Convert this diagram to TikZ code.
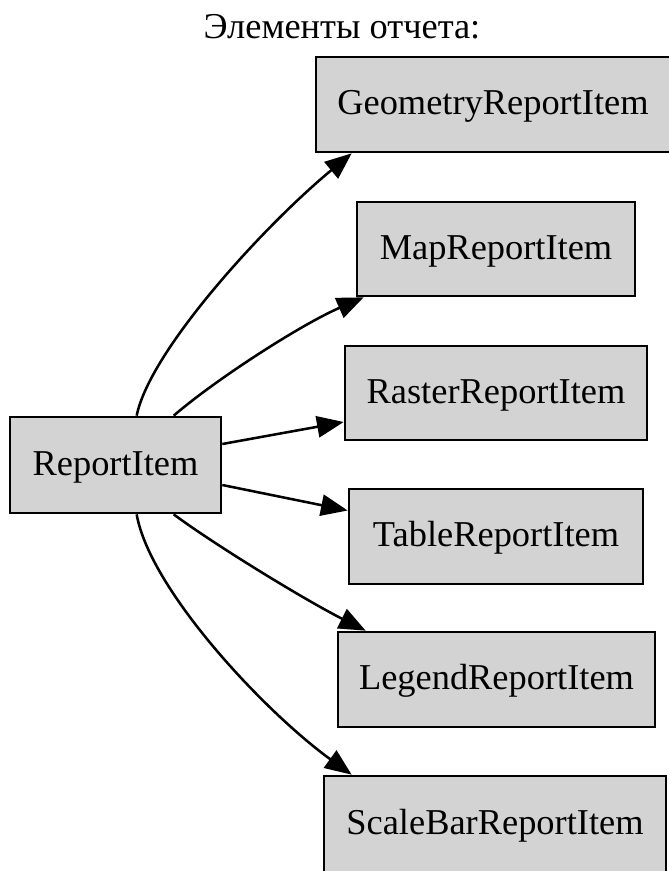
\documentclass[tikz,border=0pt]{standalone}
\usepackage{fontspec}
\setmainfont{Liberation Serif}
\usetikzlibrary{arrows.meta,calc}
\definecolor{boxfill}{RGB}{211,211,211}
\tikzset{
  item/.style={draw=black, fill=boxfill, line width=2pt, inner sep=0pt,
    font=\fontsize{27.3}{32}\selectfont, text height=20pt, text depth=5pt,
    align=center},
  edge/.style={line width=1.9pt, -{Triangle[length=20pt,width=16pt]}},
}
\begin{document}
\begin{tikzpicture}[x=0.75pt,y=-0.75pt]
  \useasboundingbox (0,0) rectangle (668,871);

  % heading
  \node[anchor=base, font=\fontsize{27.3}{32}\selectfont] (title) at (342,38) {Элементы отчета:};

  % source item
  \node[item, minimum width=211*0.75pt, minimum height=96*0.75pt] (r) at (115.5,465) {ReportItem};

  % derived items
  \node[item, minimum width=354*0.75pt, minimum height=95*0.75pt] (geo) at (493,104.5) {GeometryReportItem};
  \node[item, minimum width=278*0.75pt, minimum height=94*0.75pt] (map) at (496,249) {MapReportItem};
  \node[item, minimum width=302*0.75pt, minimum height=94*0.75pt] (ras) at (496,393) {RasterReportItem};
  \node[item, minimum width=294*0.75pt, minimum height=95*0.75pt] (tab) at (496,536.5) {TableReportItem};
  \node[item, minimum width=317*0.75pt, minimum height=95*0.75pt] (leg) at (496.5,679.5) {LegendReportItem};
  \node[item, minimum width=342*0.75pt, minimum height=96*0.75pt] (sb) at (495,824) {ScaleBarReportItem};

  % connectors
  \draw[edge] ($(r.north west)+(128,0)$) .. controls (150,350) and (265,225) .. ($(geo.south west)+(37,0)$);
  \draw[edge] ($(r.north west)+(165,0)$) .. controls (215,380) and (300,325) .. ($(map.south west)+(8,0)$);
  \draw[edge] ($(r.east)+(0,-21)$) -- ($(ras.west)+(0,29)$);
  \draw[edge] ($(r.east)+(0,20)$) -- ($(tab.west)+(0,-26)$);
  \draw[edge] ($(r.south west)+(165,0)$) .. controls (215,545) and (305,600) .. ($(leg.north west)+(29,0)$);
  \draw[edge] ($(r.south west)+(128,0)$) .. controls (150,590) and (265,712) .. ($(sb.north west)+(29,0)$);
\end{tikzpicture}
\end{document}
